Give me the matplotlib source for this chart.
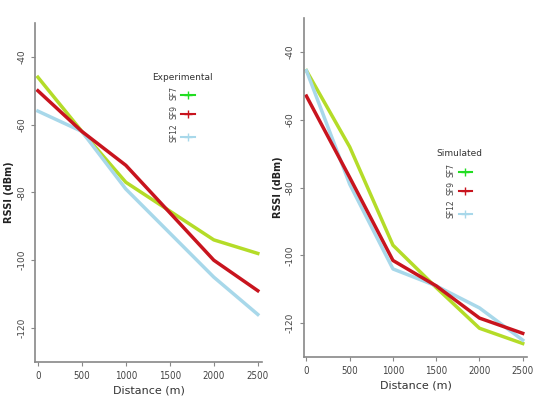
import matplotlib
matplotlib.use("Agg")
import matplotlib.pyplot as plt
from matplotlib.lines import Line2D

# distances (m)
dist_exp = [0, 500, 1000, 2000, 2500]
dist_sim = [0, 500, 1000, 1500, 2000, 2500]

# experimental RSSI (dBm)
exp_sf7 = [-46, -62, -77, -94, -98]
exp_sf9 = [-50, -62, -72, -100, -109]
exp_sf12 = [-56, -62, -79, -105, -116]

# simulated RSSI (dBm)
sim_sf7 = [-45.5, -68, -97, -109.5, -121.5, -126]
sim_sf9 = [-53, -77, -101.5, -109, -118.5, -123]
sim_sf12 = [-45.5, -79, -104, -109, -115.5, -125]

series_names = ["SF7", "SF9", "SF12"]
line_colors = ["#b4dc28", "#c8141e", "#a8d8ea"]
legend_colors = ["#22dd22", "#c8141e", "#a8d8ea"]

yticks = [-40, -60, -80, -100, -120]
xticks = [0, 500, 1000, 1500, 2000, 2500]
xticklabels = ["0", "500", "1000", "1500", "2000", "2500"]

fig = plt.figure(figsize=(5.34, 4.03), dpi=100)
ax1 = fig.add_axes([0.066, 0.102, 0.425, 0.841])
ax2 = fig.add_axes([0.569, 0.114, 0.418, 0.841])


def style(ax, title, legend_loc):
    ax.set_xlim(-30, 2550)
    ax.set_ylim(-130, -30)
    for s in ["top", "right"]:
        ax.spines[s].set_visible(False)
    for s in ["left", "bottom"]:
        ax.spines[s].set_color("#888888")
        ax.spines[s].set_linewidth(1.2)
    ax.set_yticks(yticks)
    ax.set_yticklabels([str(v) for v in yticks], rotation=90, va="center",
                       fontsize=6.5, color="#444444")
    ax.set_xticks(xticks)
    ax.set_xticklabels(xticklabels, fontsize=7, color="#444444",
                       fontstretch="condensed")
    ax.tick_params(length=3, color="#888888")
    ax.set_xlabel("Distance (m)", fontsize=8, color="#333333", labelpad=3)
    ax.set_ylabel("RSSI (dBm)", fontsize=7, color="#222222",
                  fontweight="bold", labelpad=2)
    handles = [Line2D([0], [0], color=c, lw=1.5, marker="+", markersize=6)
               for c in legend_colors]
    leg = ax.legend(handles, series_names, title=title, loc=legend_loc,
                    frameon=False, fontsize=5.5, title_fontsize=6.5,
                    handlelength=1.8, labelspacing=0.6, markerfirst=False,
                    handletextpad=0.4)
    for t in leg.get_texts():
        t.set_rotation(90)
        t.set_color("#444444")
    leg.get_title().set_color("#333333")


ax1.plot(dist_exp, exp_sf7, color=line_colors[0], lw=2.5)
ax1.plot(dist_exp, exp_sf12, color=line_colors[2], lw=2.5)
ax1.plot(dist_exp, exp_sf9, color=line_colors[1], lw=2.5)
style(ax1, "Experimental", (0.5, 0.64))

ax2.plot(dist_sim, sim_sf7, color=line_colors[0], lw=2.5)
ax2.plot(dist_sim, sim_sf12, color=line_colors[2], lw=2.5)
ax2.plot(dist_sim, sim_sf9, color=line_colors[1], lw=2.5)
style(ax2, "Simulated", (0.58, 0.4))

fig.savefig("out.png", dpi=100)
